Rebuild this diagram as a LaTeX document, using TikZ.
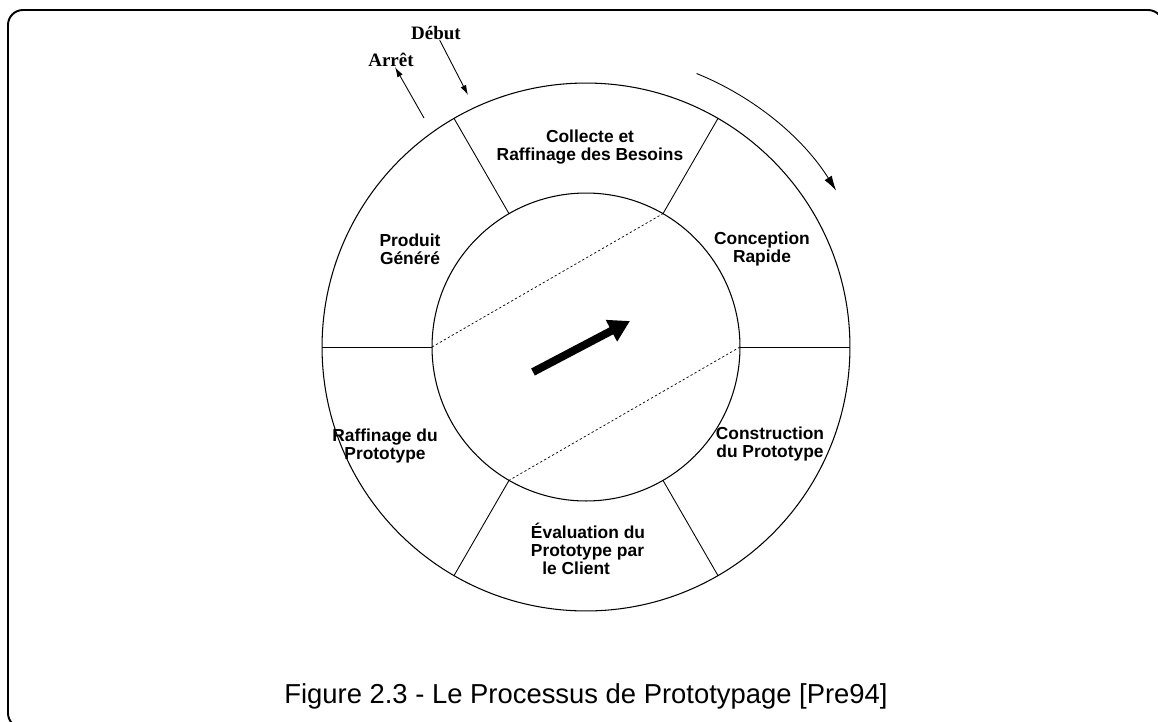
\documentclass[tikz,border=0pt]{standalone}
\usepackage{fontspec}
\setmainfont{Liberation Serif}
\setsansfont{Liberation Sans}
\usetikzlibrary{arrows.meta,positioning}

\tikzset{
  phase/.style={font=\sffamily\bfseries\fontsize{9.9}{10.3}\selectfont, align=center, inner sep=0pt},
  tag/.style={font=\rmfamily\bfseries\fontsize{10.8}{12}\selectfont, inner sep=0pt},
  chord/.style={thin, dash pattern=on 1.3pt off 1.3pt}
}

\begin{document}
\begin{tikzpicture}[x=0.02cm, y=0.02cm]
\clip (-586,-374) rectangle (572,347);
% frame
\draw[line width=1.1pt, rounded corners=0.3cm] (-578,-381) rectangle (577,337);
\draw[line width=1.7pt] (-563,337) -- (562,337);
%============
\node[circle, draw, line width=0.6pt, minimum size=10.56cm, inner sep=0pt] (outer) at (0,0) {};
\node[circle, draw, line width=0.6pt, minimum size=6.16cm, inner sep=0pt] (inner) at (0,0) {};
\foreach \a in {0,60,...,300} {
  \coordinate (in\a) at (\a:154);
  \coordinate (out\a) at (\a:264);
  \draw[line width=0.5pt] (in\a) -- (out\a);
}
\draw[chord] (in180) -- (in60);
\draw[chord] (in0) -- (in240);
%============
\node[phase] (collecte) at (4,200) {Collecte et\\Raffinage des Besoins};
\node[phase] (conception) at (176,98) {Conception\\Rapide};
\node[phase] (construction) at (184,-97) {Construction\\du Prototype};
\node[phase, align=left] (evaluation) at (2,-202) {Évaluation du\\Prototype par\\\hspace*{0.65em}le Client};
\node[phase] (raffinage) at (-201,-99) {Raffinage du\\Prototype};
\node[phase] (produit) at (-176,98) {Produit\\Généré};
%============
\coordinate (tail) at (-53,-25);
\coordinate (head) at (44,26);
\draw[line width=4.5pt, -{Triangle[length=0.42cm, width=0.46cm]}] (tail) -- (head);
\draw[line width=0.5pt, -{Latex[length=0.3cm, width=0.17cm]}] (68:295) arc[start angle=68, end angle=32, radius=295];
%============
\node[tag] (debut) at (-150,314) {Début};
\node[tag] (arret) at (-195,287) {Arrêt};
\coordinate (debut in) at (-118,252);
\coordinate (arret out) at (-162,229);
\draw[line width=0.5pt, -{Latex[length=0.2cm, width=0.12cm]}] (debut) -- (debut in);
\draw[line width=0.5pt, -{Latex[length=0.2cm, width=0.12cm]}] (arret out) -- (arret);
%============
\node[font=\sffamily\fontsize{15.6}{18}\selectfont, anchor=base] (caption) at (0,-356) {Figure 2.3 - Le Processus de Prototypage [Pre94]};
\end{tikzpicture}
\end{document}
